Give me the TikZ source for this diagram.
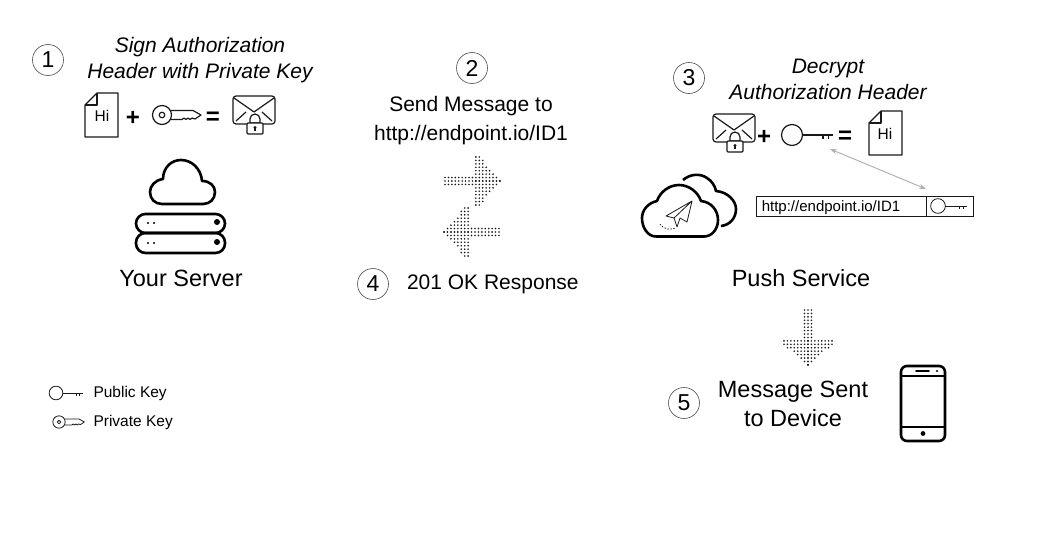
\documentclass[tikz,border=0pt]{standalone}
\usepackage{fontspec}
\setmainfont{Liberation Sans}
\usetikzlibrary{arrows.meta}
\colorlet{colorInk}{black!90}
\colorlet{colorDot}{black!90}
\colorlet{colorLink}{black!32}
\tikzset{
   step num/.style={draw=black!70,circle,line width=0.6pt,minimum size=31pt,inner sep=0pt,font=\fontsize{23}{26}\selectfont},
   big txt/.style={font=\fontsize{23.5}{29}\selectfont,align=center},
   mid txt/.style={font=\fontsize{21}{29}\selectfont,align=center},
   ital txt/.style={font=\fontsize{21}{26}\selectfont\itshape,align=center},
   url txt/.style={font=\fontsize{15}{18}\selectfont},
   leg txt/.style={font=\fontsize{15.5}{18}\selectfont,anchor=west},
   sym txt/.style={font=\fontsize{24}{26}\selectfont\bfseries},
   hi txt/.style={font=\fontsize{15.5}{18}\selectfont},
   link/.style={{Stealth[length=7pt,width=5pt]}-{Stealth[length=7pt,width=5pt]},color=colorLink,line width=0.9pt},
   urlbox/.style={draw=colorInk,line width=0.9pt,minimum height=20pt,inner sep=0pt},
   icon/.style={line width=1.2pt,color=colorInk,line join=round},
   keyline/.style={line width=1.2pt,color=colorInk,line join=round},
   smallkey/.style={keyline/.style={line width=0.8pt,color=colorInk,line join=round}},
   heavy/.style={line width=2.6pt,color=black,line join=round},
   % key with a plain ring
   pubkey/.pic={
     \draw[keyline] (0,0) circle (10.5);
     \draw[keyline] (10.5,0) -- (41,0) (31,0) -- (31,4) (36.5,0) -- (36.5,4);
   },
   % key with a solid blade
   privkey/.pic={
     \draw[keyline] (0,0) circle (9.5) (0,0) circle (2.8);
     \draw[keyline] (8.5,-4.5) -- (31,-4.5) -- (39,0) -- (33,4) -- (30,3) -- (28,4.5) -- (26,3) -- (24,4.5) -- (22,3) -- (20,4.5) -- (8.5,4.5);
   },
   docicon/.pic={
     \draw[icon] (12,0) -- (33,0) -- (33,44) -- (0,44) -- (0,12) -- cycle;
     \draw[icon] (12,0) -- (12,12) -- (0,12);
   },
   mailicon/.pic={
     \draw[icon,rounded corners=3pt] (14,28) -- (0,28) -- (0,0) -- (42,0) -- (42,28) -- (30,28);
     \draw[icon] (1,2) -- (21,16) -- (41,2);
     \draw[icon] (3,25) -- (13,16) (39,25) -- (29,16);
     \draw[icon,fill=white] (17,27) -- (17,23) arc (180:360:5) -- (27,27) -- cycle;
     \draw[icon,fill=white,rounded corners=1pt] (14,27) rectangle (30,38);
     \fill[colorInk] (22,31.5) circle (1.7);
     \draw[icon] (22,31.5) -- (22,35);
   },
   dotarrow/.pic={
     \foreach \r/\m in {0/16,1/15,2/14,3/13,4/12,5/11,6/11,7/10} {
       \foreach \c in {9,...,\m} {
         \fill[colorDot] (\c*3.43,\r*3.43) circle (0.9);
         \fill[colorDot] (\c*3.43,-\r*3.43) circle (0.9);
       }
     }
     \foreach \r in {-1,0,1} {
       \foreach \c in {0,...,8} {
         \fill[colorDot] (\c*3.43,\r*3.43) circle (0.9);
       }
     }
   },
}
\begin{document}
\begin{tikzpicture}[x=1pt,y=-1pt]

  \useasboundingbox (0,0) rectangle (1039,549);

  \node[step num] (num1) at (48, 60)  {1};
  \node[step num] (num2) at (472, 68) {2};
  \node[step num] (num3) at (689, 78) {3};
  \node[step num] (num4) at (373,284) {4};
  \node[step num] (num5) at (684,403) {5};

  \node[ital txt] (sign)    at (200, 60.5) {Sign Authorization\\Header with Private Key};
  \node[mid txt]  (send)    at (471,120.5) {Send Message to\\http://endpoint.io/ID1};
  \node[ital txt] (decrypt) at (828, 79)   {Decrypt\\Authorization Header};
  \node[mid txt,anchor=west] (okresp) at (403.5,284) {201 OK Response};

  \node[big txt] (server) at (181,278) {Your Server};
  \node[big txt] (push)   at (801,278) {Push Service};
  \node[big txt] (sent)   at (793,404) {Message Sent\\to Device};

  %% step 1 equation
  \pic at (85,93) {docicon};
  \node[hi txt] (hi1) at (102,116) {Hi};
  \node[sym txt] (plus1) at (133,118) {+};
  \pic at (162,115) {privkey};
  \node[sym txt] (eq1) at (213,118.5) {=};
  \pic at (233,96) {mailicon};

  %% step 3 equation
  \pic at (713,114) {mailicon};
  \node[sym txt] (plus3) at (764,137) {+};
  \pic at (792,135) {pubkey};
  \node[sym txt] (eq3) at (845,137) {=};
  \pic at (869,111) {docicon};
  \node[hi txt] (hi3) at (885,134) {Hi};

  %% server
  \draw[heavy] (162,204) -- (203,204) .. controls (210,204) and (215,199) .. (215,192)
     .. controls (215,186) and (210,181) .. (202,181) .. controls (201,168) and (191,160) .. (181,160)
     .. controls (171,160) and (163,168) .. (163,179) .. controls (155,180) and (150,186) .. (150,192)
     .. controls (150,199) and (155,204) .. (162,204) -- cycle;
  \draw[heavy,rounded corners=9.5pt] (136,214) rectangle (225,233);
  \draw[heavy,rounded corners=9.5pt] (136,233) rectangle (225,253);
  \foreach \y in {223,243} {
    \fill (217,\y-1) circle (3);
    \fill (148,\y) circle (1.2) (154,\y) circle (1.2);
  }

  %% push service cloud
  \draw[heavy] (656,236.5) -- (704,236.5) .. controls (712,236.5) and (718,229) .. (718,220)
     .. controls (718,210) and (711,202) .. (701,201) .. controls (698,192) and (689,185) .. (679,185)
     .. controls (669,185) and (660,192) .. (657,201) .. controls (648,203) and (642,210) .. (642,218)
     .. controls (642,228) and (648,236.5) .. (656,236.5) -- cycle;
  \draw[heavy] (683,180) .. controls (690,174) and (700,173) .. (707,178)
     .. controls (712,181) and (715,186) .. (716,191) .. controls (728,192) and (736,201) .. (736,209)
     .. controls (736,218) and (730,225) .. (721,226);
  \draw[icon,line width=0.8pt] (692,201) -- (666,216) -- (674,218) -- (692,201) -- (687,222) -- (680,218) -- (677,227) -- (674,218);
  \draw[icon,line width=0.7pt,dash pattern=on 1.5pt off 1.5pt] (660,224) .. controls (664,230) and (671,230) .. (676,228);

  %% url box
  \node[urlbox,minimum width=170pt] (urlcell) at (841,206) {};
  \node[urlbox,minimum width=47pt]  (keycell) at (949.5,206) {};
  \node[url txt] (urltxt) at (831,207.5) {http://endpoint.io/ID1};
  \pic[scale=0.7,smallkey] at (938,206) {pubkey};

  %% arrows
  \pic at (445,181) {dotarrow};
  \pic[xscale=-1] at (499,232) {dotarrow};
  \pic[rotate=-90] at (808,310) {dotarrow};

  \coordinate (keyend) at (830,149);
  \coordinate (boxend) at (926,189);
  \draw[link] (keyend) -- (boxend);

  %% phone
  \draw[heavy,rounded corners=6pt] (901,366) rectangle (945,441);
  \draw[heavy] (901,376) -- (945,376) (901,427) -- (945,427);
  \draw[heavy,line cap=round,line width=1.8pt] (916,371) -- (929,371);
  \fill (937,371) circle (1.2);
  \fill (923,433.5) circle (2.4);

  %% legend
  \pic[scale=0.65,smallkey] at (56,393) {pubkey};
  \node[leg txt] (pubtxt) at (90,393) {Public Key};
  \pic[scale=0.65,smallkey] at (59,422) {privkey};
  \node[leg txt] (privtxt) at (90,422) {Private Key};

\end{tikzpicture}
\end{document}
